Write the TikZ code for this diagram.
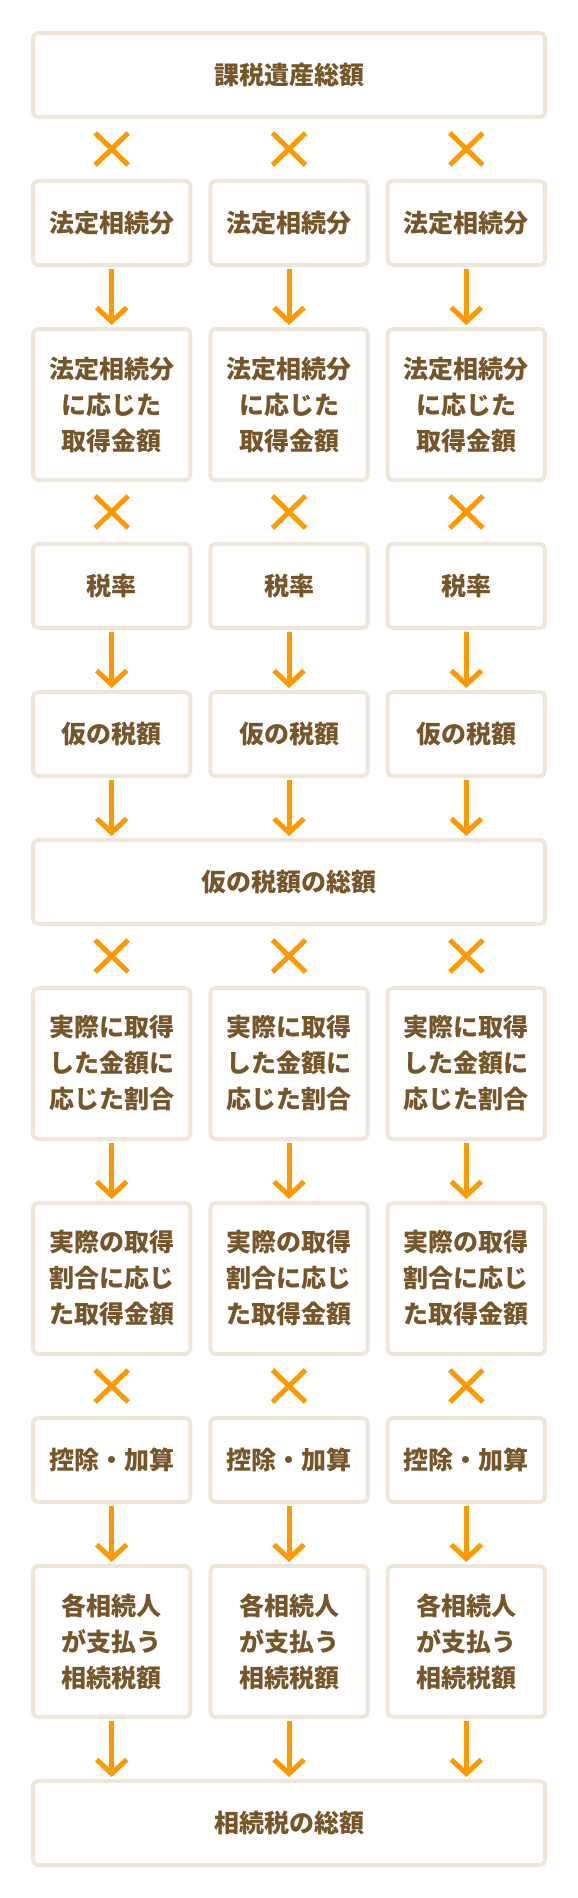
\documentclass[tikz,border=0pt]{standalone}
\usepackage{fontspec}
\setmainfont{Noto Sans CJK JP}
\usepackage{tikz}
\usetikzlibrary{shapes.misc,arrows.meta}
\definecolor{waku}{HTML}{EFE6DA}
\definecolor{daidai}{HTML}{FF9900}
\definecolor{chairo}{HTML}{765629}

\begin{document}
\begin{tikzpicture}[
  x=1pt, y=-1pt,
  every node/.style={font=\fontsize{25}{36}\selectfont\bfseries, text=chairo, align=center},
  box/.style={draw=waku, line width=4pt, rounded corners=5pt, fill=white,
    minimum width=157.3pt, minimum height=84pt, inner sep=0pt},
  tall/.style={box, minimum height=151pt},
  wide/.style={box, minimum width=512pt},
  kake/.style={draw=daidai, cross out, line width=5pt, minimum width=28pt,
    minimum height=27pt, inner sep=0pt},
  ya/.style={draw=daidai, line width=5pt, -{Straight Barb[length=14pt,width=30pt]},
    shorten >=2pt, shorten <=2pt}
]
\useasboundingbox (0,0) rectangle (578,1898);

\node[wide] (kazei) at (289,75) {課税遺産総額};
\node[wide] (karisogaku) at (289,882) {仮の税額の総額};
\node[wide] (sogaku) at (289,1823) {相続税の総額};

% 相続人ごとの列
\foreach \c/\x in {1/111.67, 2/289, 3/466.33} {
  \node[kake] (ka\c) at (\x,149) {};
  \node[box] (hotei\c) at (\x,223) {法定相続分};
  \node[tall] (hoteigaku\c) at (\x,404.5) {法定相続分\\に応じた\\取得金額};
  \node[kake] (kb\c) at (\x,512) {};
  \node[box] (zeiritsu\c) at (\x,586) {税率};
  \node[box] (kari\c) at (\x,734) {仮の税額};
  \node[kake] (kc\c) at (\x,956) {};
  \node[tall] (wariai\c) at (\x,1063.5) {実際に取得\\した金額に\\応じた割合};
  \node[tall] (jissai\c) at (\x,1278.5) {実際の取得\\割合に応じ\\た取得金額};
  \node[kake] (kd\c) at (\x,1386) {};
  \node[box] (kojo\c) at (\x,1460) {控除・加算};
  \node[tall] (nozei\c) at (\x,1641.5) {各相続人\\が支払う\\相続税額};
  \draw[ya] (hotei\c) -- (hoteigaku\c);
  \draw[ya] (zeiritsu\c) -- (kari\c);
  \draw[ya] (kari\c.south) -- (kari\c.south |- karisogaku.north);
  \draw[ya] (wariai\c) -- (jissai\c);
  \draw[ya] (kojo\c) -- (nozei\c);
  \draw[ya] (nozei\c.south) -- (nozei\c.south |- sogaku.north);
}
\end{tikzpicture}
\end{document}
